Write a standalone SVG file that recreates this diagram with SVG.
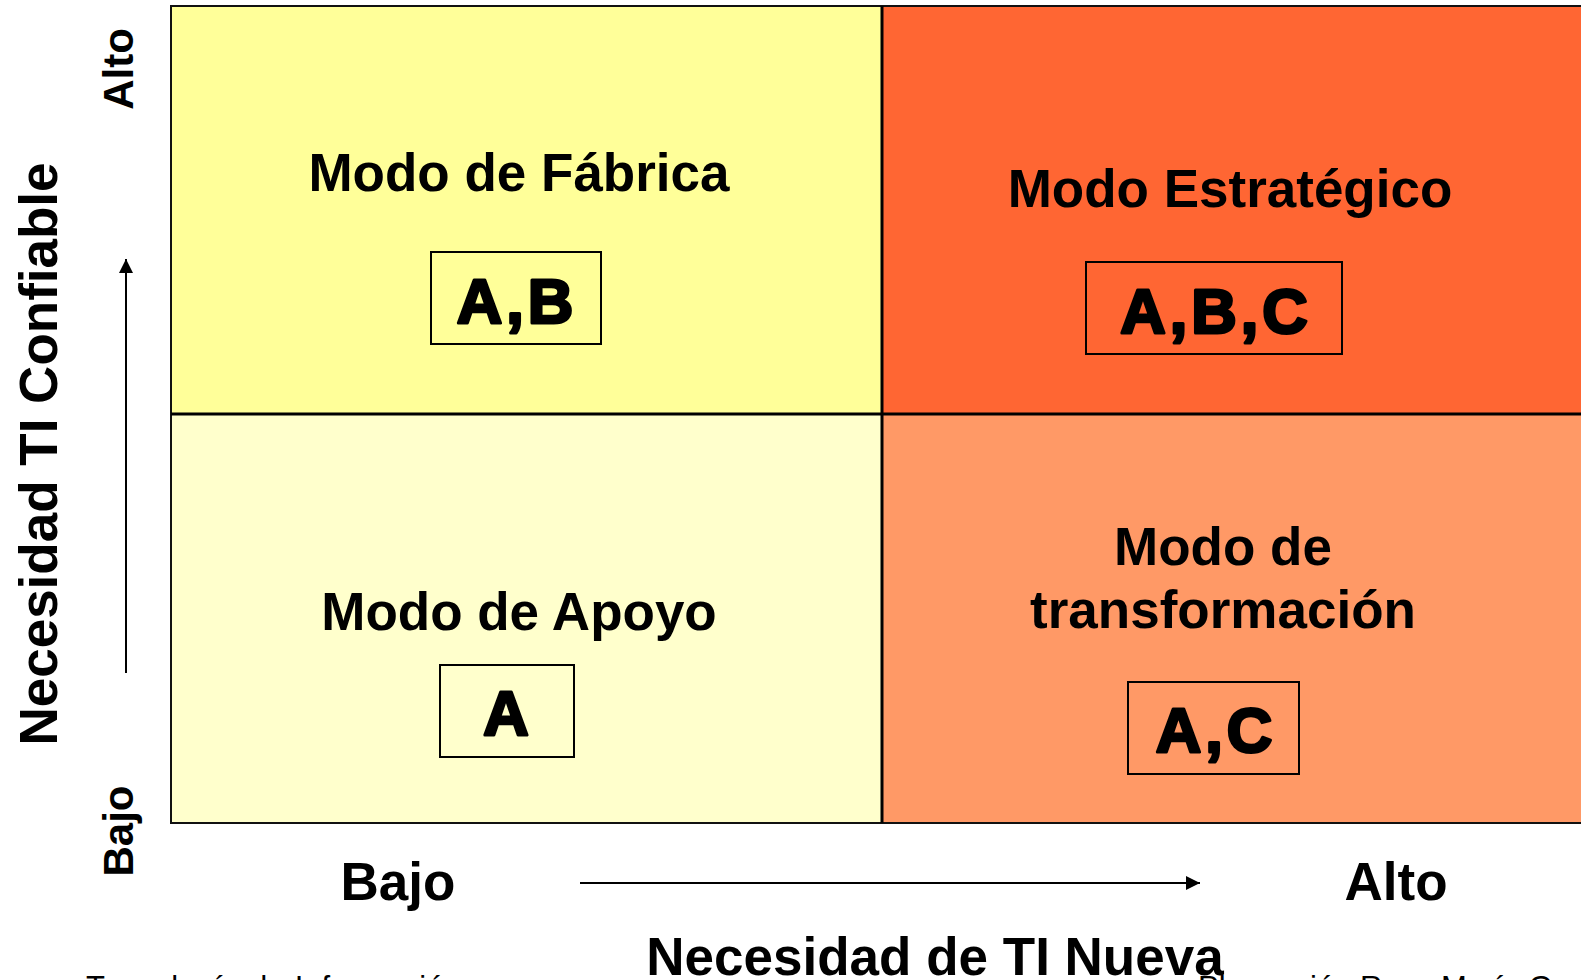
<svg xmlns="http://www.w3.org/2000/svg" width="1581" height="980" viewBox="0 0 1581 980">
<style>
.lbl{font-family:"Liberation Sans",Arial,sans-serif;font-weight:bold;font-size:53px;fill:#000;text-anchor:middle}
.ax{font-family:"Liberation Sans",Arial,sans-serif;font-weight:bold;font-size:42px;fill:#000;text-anchor:middle}
.big{font-family:"Liberation Sans",Arial,sans-serif;font-weight:bold;font-size:63px;fill:#000;stroke:#000;stroke-width:3;stroke-linejoin:round;letter-spacing:4px;text-anchor:middle}
.box{fill:none;stroke:#000;stroke-width:2}
.foot{font-family:"Liberation Sans",Arial,sans-serif;font-size:31px;fill:#000}
.conn{stroke:#000;stroke-width:2;fill:none}
</style>
<defs>
<marker id="ah" viewBox="0 0 10 10" refX="10" refY="5" markerWidth="15" markerHeight="14" markerUnits="userSpaceOnUse" orient="auto">
<path d="M0,0 L10,5 L0,10 z" fill="#000"/>
</marker>
</defs>
<rect width="1581" height="980" fill="#fff"/>
<g id="q-fabrica">
<rect x="171" y="6" width="711" height="408" fill="#FFFF99"/>
<text class="lbl" x="519" y="191">Modo de Fábrica</text>
<rect class="box" x="431" y="252" width="170" height="92"/>
<text class="big" x="517" y="323">A,B</text>
</g>
<g id="q-estrategico">
<rect x="882" y="6" width="720" height="408" fill="#FF6633"/>
<text class="lbl" x="1230" y="207">Modo Estratégico</text>
<rect class="box" x="1086" y="262" width="256" height="92"/>
<text class="big" x="1216" y="333">A,B,C</text>
</g>
<g id="q-apoyo">
<rect x="171" y="414" width="711" height="409" fill="#FFFFCC"/>
<text class="lbl" x="519" y="630">Modo de Apoyo</text>
<rect class="box" x="440" y="665" width="134" height="92"/>
<text class="big" x="508" y="735">A</text>
</g>
<g id="q-transformacion">
<rect x="882" y="414" width="720" height="409" fill="#FF9966"/>
<text class="lbl" x="1223" y="565">Modo de</text>
<text class="lbl" x="1223" y="628">transformación</text>
<rect class="box" x="1128" y="682" width="171" height="92"/>
<text class="big" x="1216" y="752">A,C</text>
</g>
<g id="grid" fill="none" stroke="#111">
<rect x="171" y="6" width="1430" height="817" stroke-width="2"/>
<line x1="882" y1="6" x2="882" y2="823" stroke-width="3" stroke="#000"/>
<line x1="171" y1="414" x2="1600" y2="414" stroke-width="3" stroke="#000"/>
</g>
<g id="connectors">
<line class="conn" x1="126" y1="673" x2="126" y2="259" marker-end="url(#ah)"/>
<line class="conn" x1="580" y1="883" x2="1200" y2="883" marker-end="url(#ah)"/>
</g>
<g id="axis-labels">
<text class="lbl" transform="translate(57,454) rotate(-90)" x="0" y="0">Necesidad TI Confiable</text>
<text class="ax" transform="translate(133,69) rotate(-90)" x="0" y="0">Alto</text>
<text class="ax" transform="translate(133,831) rotate(-90)" x="0" y="0">Bajo</text>
<text class="lbl" x="398" y="900">Bajo</text>
<text class="lbl" x="1396" y="900">Alto</text>
<text class="lbl" x="935" y="975">Necesidad de TI Nueva</text>
</g>
<g id="footer">
<text class="foot" x="86" y="998" letter-spacing="0.5">Tecnología de Información</text>
<text class="foot" x="1198" y="998">Planeación Rosa María García</text>
</g>
</svg>
